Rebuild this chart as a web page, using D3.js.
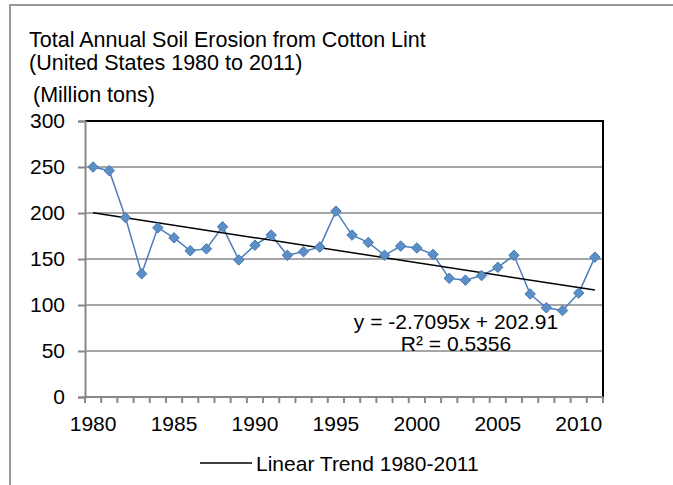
<!DOCTYPE html>
<html>
<head>
<meta charset="utf-8">
<script src="https://cdn.jsdelivr.net/npm/d3@7"></script>
<style>
  body { margin: 0; background: #fff; }
  text { font-family: "Liberation Sans", Arial, sans-serif; fill: #000; }
</style>
</head>
<body>
<svg id="chart" width="673" height="485"></svg>
<script>
// data
var years = d3.range(1980, 2012);
var erosion = [250, 246, 195, 134, 184, 173, 159, 161, 185, 149,
               165, 176, 154, 158, 163, 202, 176, 168, 154, 164,
               162, 155, 129, 127, 132, 141, 154, 112, 97, 94,
               113, 152];
var yTicks = [0, 50, 100, 150, 200, 250, 300];
var xLabels = [1980, 1985, 1990, 1995, 2000, 2005, 2010];
var titleLines = ["Total Annual Soil Erosion from Cotton Lint", "(United States 1980 to 2011)"];
var unitLabel = "(Million tons)";
// trend line as printed on the chart
var trendSlope = -2.7095, trendIntercept = 202.91;
var eqLabel = "y = -2.7095x + 202.91";
var r2Label = "R\u00b2 = 0.5356";
var legendLabel = "Linear Trend 1980-2011";

var svg = d3.select("#chart");

var plot = {left: 85, right: 603, top: 121, bottom: 397};
var fs = "21px";

// outer frame
svg.append("path")
  .attr("d", "M10,490 L10,5 L680,5")
  .attr("fill", "none")
  .attr("stroke", "#999")
  .attr("stroke-width", 2);

var x = d3.scaleBand()
  .domain(years)
  .range([plot.left, plot.right]);

var y = d3.scaleLinear()
  .domain([0, 300])
  .range([plot.bottom, plot.top]);

// title
svg.selectAll(".title")
  .data(titleLines)
  .enter().append("text")
  .attr("class", "title")
  .attr("x", 29)
  .attr("y", function(d, i) { return 47 + i * 23; })
  .style("font-size", "21.5px")
  .text(function(d) { return d; });

svg.append("text")
  .attr("x", 33)
  .attr("y", 102)
  .style("font-size", "21.5px")
  .text(unitLabel);

// gridlines
svg.append("g")
  .selectAll("line")
  .data(yTicks.slice(1, -1))
  .enter().append("line")
  .attr("x1", plot.left).attr("x2", plot.right)
  .attr("y1", function(d) { return y(d); })
  .attr("y2", function(d) { return y(d); })
  .attr("stroke", "#a6a6a6")
  .attr("stroke-width", 2);

// top + right border
svg.append("path")
  .attr("d", "M" + plot.left + "," + plot.top + " L" + plot.right + "," + plot.top + " L" + plot.right + "," + plot.bottom)
  .attr("fill", "none")
  .attr("stroke", "#000")
  .attr("stroke-width", 2);

// y axis
var yAxis = svg.append("g")
  .attr("transform", "translate(" + plot.left + ",0)")
  .call(d3.axisLeft(y).tickValues(yTicks).tickSize(7).tickPadding(13));
yAxis.select(".domain").attr("stroke", "#888").attr("stroke-width", 2);
yAxis.selectAll(".tick line").attr("stroke", "#888").attr("stroke-width", 2);
yAxis.selectAll("text").style("font-size", fs).attr("fill", "#000");

// x axis, ticks between categories
var tickYears = years.concat([2012]);
var xAxisG = svg.append("g");
xAxisG.append("line")
  .attr("x1", plot.left).attr("x2", plot.right)
  .attr("y1", plot.bottom).attr("y2", plot.bottom)
  .attr("stroke", "#888").attr("stroke-width", 2);
xAxisG.selectAll(".xt")
  .data(tickYears)
  .enter().append("line")
  .attr("class", "xt")
  .attr("x1", function(d) { return d < 2012 ? x(d) : x(2011) + x.bandwidth(); })
  .attr("x2", function(d) { return d < 2012 ? x(d) : x(2011) + x.bandwidth(); })
  .attr("y1", plot.bottom).attr("y2", plot.bottom + 6)
  .attr("stroke", "#888").attr("stroke-width", 2);
xAxisG.selectAll(".xl")
  .data(xLabels)
  .enter().append("text")
  .attr("class", "xl")
  .attr("x", function(d) { return x(d) + x.bandwidth() / 2; })
  .attr("y", plot.bottom + 34)
  .attr("text-anchor", "middle")
  .style("font-size", fs)
  .text(function(d) { return d; });

// data line
var cx = function(d, i) { return x(years[i]) + x.bandwidth() / 2; };
svg.append("path")
  .datum(erosion)
  .attr("fill", "none")
  .attr("stroke", "#4a7ebb")
  .attr("stroke-width", 1.5)
  .attr("d", d3.line().x(cx).y(function(d) { return y(d); }));

// trend line
svg.append("line")
  .attr("x1", cx(null, 0))
  .attr("y1", y(trendSlope * 1 + trendIntercept))
  .attr("x2", cx(null, years.length - 1))
  .attr("y2", y(trendSlope * years.length + trendIntercept))
  .attr("stroke", "#000")
  .attr("stroke-width", 1.5);

// markers
svg.selectAll(".pt")
  .data(erosion)
  .enter().append("path")
  .attr("class", "pt")
  .attr("transform", function(d, i) { return "translate(" + cx(d, i) + "," + y(d) + ")"; })
  .attr("d", d3.symbol().type(d3.symbolDiamond2).size(70))
  .attr("fill", "#5b8fc8")
  .attr("stroke", "#4677ae")
  .attr("stroke-width", 1);

// equation labels
svg.append("text")
  .attr("x", 456).attr("y", 329)
  .attr("text-anchor", "middle")
  .style("font-size", fs)
  .text(eqLabel);
svg.append("text")
  .attr("x", 456).attr("y", 351)
  .attr("text-anchor", "middle")
  .style("font-size", fs)
  .text(r2Label);

// legend
svg.append("line")
  .attr("x1", 200).attr("x2", 252)
  .attr("y1", 463).attr("y2", 463)
  .attr("stroke", "#000").attr("stroke-width", 1.5);
svg.append("text")
  .attr("x", 256).attr("y", 471)
  .style("font-size", fs)
  .text(legendLabel);
</script>
</body>
</html>
